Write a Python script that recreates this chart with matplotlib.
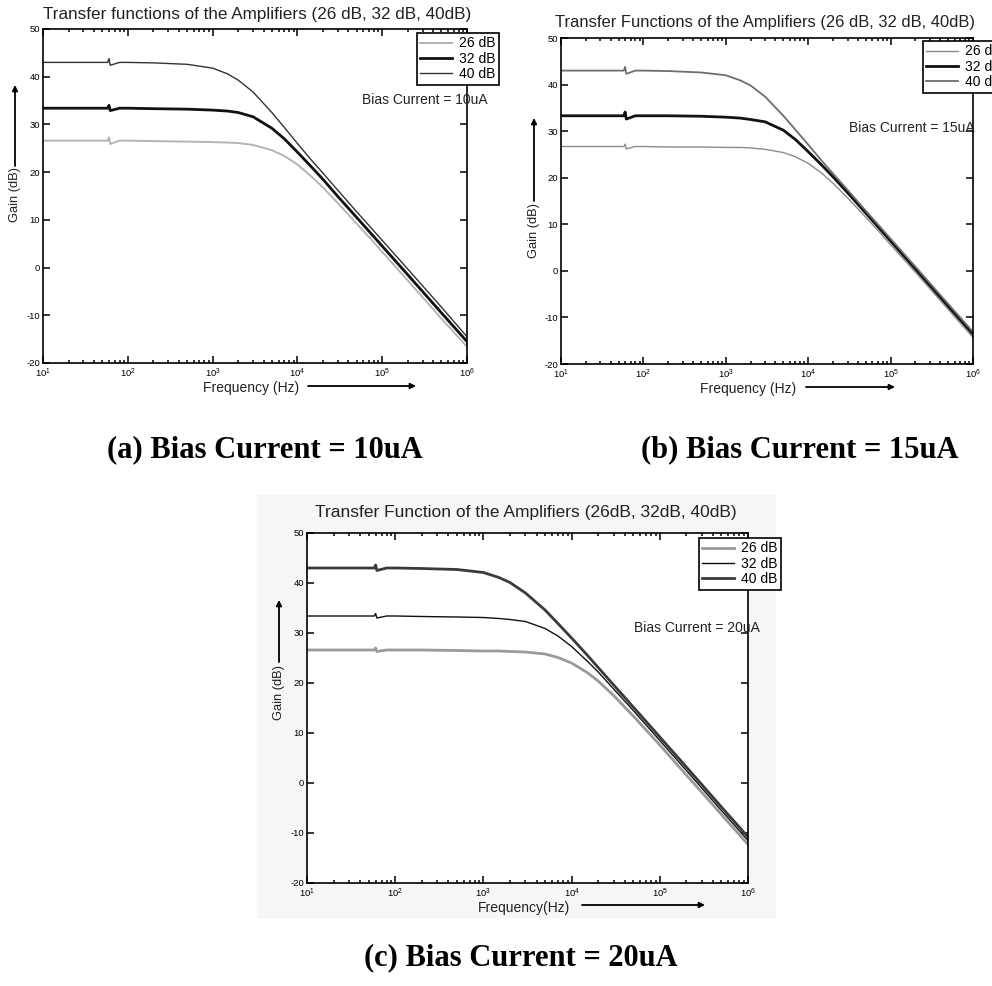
import numpy as np
import matplotlib
matplotlib.use('Agg')
import matplotlib.pyplot as plt
from matplotlib.patches import FancyArrowPatch, Rectangle
from matplotlib.ticker import LogLocator, NullFormatter

plt.rcParams['font.family'] = ['Liberation Sans', 'DejaVu Sans']
plt.rcParams['axes.unicode_minus'] = False

W, H = 992, 986

# frequency points (Hz), 58-62 Hz holds the small mains spike
freq = [10, 20, 40, 58, 60, 62, 80, 100, 200, 500, 1e3, 1.5e3, 2e3, 3e3, 5e3, 7e3,
        1e4, 1.5e4, 2e4, 3e4, 5e4, 7e4, 1e5, 2e5, 5e5, 1e6]

# (a) bias current 10uA
gain_a_26 = [26.6, 26.6, 26.6, 26.6, 27.3, 25.9, 26.6, 26.6, 26.5, 26.4, 26.3, 26.2, 26.1, 25.7, 24.6, 23.4,
             21.6, 18.9, 16.8, 13.5, 9.2, 6.4, 3.3, -2.7, -10.7, -16.6]
gain_a_32 = [33.4, 33.4, 33.4, 33.4, 34.0, 32.9, 33.4, 33.4, 33.3, 33.2, 33.0, 32.8, 32.5, 31.6, 29.2, 27.0,
             24.2, 20.9, 18.5, 14.9, 10.5, 7.6, 4.5, -1.5, -9.5, -15.5]
gain_a_40 = [43.0, 43.0, 43.0, 43.0, 43.8, 42.4, 43.0, 43.0, 42.9, 42.6, 41.8, 40.6, 39.3, 36.8, 32.5, 29.4,
             26.0, 22.3, 19.8, 16.2, 11.7, 8.8, 5.7, -0.3, -8.3, -14.5]

# (b) bias current 15uA
gain_b_26 = [26.7, 26.7, 26.7, 26.7, 27.2, 26.2, 26.7, 26.7, 26.6, 26.6, 26.5, 26.5, 26.4, 26.1, 25.4, 24.5,
             23.1, 20.8, 18.8, 15.7, 11.5, 8.7, 5.6, -0.3, -8.3, -14.3]
gain_b_32 = [33.3, 33.3, 33.3, 33.3, 34.1, 32.6, 33.3, 33.3, 33.3, 33.2, 33.0, 32.8, 32.5, 32.0, 30.2, 28.2,
             25.6, 22.5, 20.2, 16.8, 12.4, 9.5, 6.4, 0.4, -7.6, -13.6]
gain_b_40 = [43.0, 43.0, 43.0, 43.0, 43.8, 42.3, 43.0, 43.0, 42.9, 42.6, 42.0, 40.9, 39.8, 37.4, 33.3, 30.3,
             27.1, 23.4, 20.9, 17.4, 12.9, 10.0, 6.9, 0.9, -7.1, -13.1]

# (c) bias current 20uA
gain_c_26 = [26.6, 26.6, 26.6, 26.6, 27.0, 26.3, 26.6, 26.6, 26.6, 26.5, 26.4, 26.4, 26.3, 26.2, 25.8, 25.1,
             24.0, 22.1, 20.4, 17.5, 13.4, 10.6, 7.6, 1.6, -6.3, -12.3]
gain_c_32 = [33.4, 33.4, 33.4, 33.4, 33.9, 33.0, 33.4, 33.4, 33.3, 33.2, 33.1, 32.9, 32.7, 32.3, 30.9, 29.4,
             27.3, 24.4, 22.2, 18.8, 14.5, 11.6, 8.5, 2.5, -5.5, -11.5]
gain_c_40 = [43.0, 43.0, 43.0, 43.0, 43.6, 42.5, 43.0, 43.0, 42.9, 42.7, 42.1, 41.1, 40.1, 38.0, 34.6, 31.9,
             29.0, 25.6, 23.1, 19.6, 15.2, 12.3, 9.2, 3.2, -4.8, -10.8]

labels = ['26 dB', '32 dB', '40 dB']
yticks = [-20, -10, 0, 10, 20, 30, 40, 50]


def fx(px):
    return px / W


def fy(py):
    return 1 - py / H


def arrow(fig, x0, y0, x1, y1):
    fig.add_artist(FancyArrowPatch((fx(x0), fy(y0)), (fx(x1), fy(y1)), transform=fig.transFigure,
                                   arrowstyle='-|>', mutation_scale=8, lw=1.3, color='k',
                                   shrinkA=0, shrinkB=0))


def panel(fig, box, curves, styles, title, bias, bias_xy, leg_xy, xlab, xlab_xy, xarrow, ylab_xy, yarrow):
    l, r, t, b = box
    ax = fig.add_axes([fx(l), fy(b), (r - l) / W, (b - t) / H])
    for g, (c, lw), lab in zip(curves, styles, labels):
        ax.semilogx(freq, g, color=c, lw=lw, label=lab)
    ax.set_xlim(10, 1e6)
    ax.set_ylim(-20, 50)
    ax.set_yticks(yticks)
    ax.xaxis.set_major_locator(LogLocator(base=10, numticks=10))
    ax.xaxis.set_minor_locator(LogLocator(base=10, subs=np.arange(2, 10), numticks=20))
    ax.xaxis.set_minor_formatter(NullFormatter())
    ax.tick_params(which='both', direction='in', top=True, right=True, labelsize=6.8, pad=2, width=1.1)
    ax.tick_params(axis='x', pad=3)
    ax.tick_params(which='major', length=5)
    ax.tick_params(which='minor', length=2.5)
    for s in ax.spines.values():
        s.set_linewidth(1.2)
    lg = ax.legend(loc='upper left', bbox_to_anchor=(fx(leg_xy[0]), fy(leg_xy[1])),
                   bbox_transform=fig.transFigure, fontsize=10, fancybox=False, framealpha=1,
                   edgecolor='k', borderpad=0.25, labelspacing=0.1, handlelength=2.3,
                   handletextpad=0.5, borderaxespad=0)
    lg.get_frame().set_linewidth(1.2)

    fig.text(fx(title[1]), fy(title[2]), title[0], ha='center', va='center', fontsize=title[3],
             color='#222222')
    fig.text(fx(bias_xy[0]), fy(bias_xy[1]), bias, ha='right', va='center', fontsize=10, color='#222222')
    fig.text(fx(xlab_xy[0]), fy(xlab_xy[1]), xlab, ha='center', va='center', fontsize=10, color='#222222')
    arrow(fig, xarrow[0], xarrow[2], xarrow[1], xarrow[2])
    fig.text(fx(ylab_xy[0]), fy(ylab_xy[1]), 'Gain (dB)', ha='center', va='center', rotation=90,
             fontsize=9.3, color='#222222')
    arrow(fig, yarrow[0], yarrow[1], yarrow[0], yarrow[2])
    return ax


fig = plt.figure(figsize=(W / 100, H / 100), dpi=100)

# light background behind the third panel
fig.add_artist(Rectangle((fx(257), fy(917)), (775 - 257) / W, (917 - 495) / H,
                         transform=fig.transFigure, color='#f6f6f6', zorder=-1))

panel(fig, (43, 467, 29, 363), [gain_a_26, gain_a_32, gain_a_40],
      [('#b4b4b4', 1.4), ('#111111', 2.0), ('#333333', 1.0)],
      ('Transfer functions of the Amplifiers (26 dB, 32 dB, 40dB)', 257, 15, 12.3),
      'Bias Current = 10uA', (488, 100), (417, 33),
      'Frequency (Hz)', (251, 388), (308, 416, 386), (15, 195), (15, 166, 85))

panel(fig, (561, 973, 38, 364), [gain_b_26, gain_b_32, gain_b_40],
      [('#8c8c8c', 1.0), ('#111111', 2.0), ('#6e6e6e', 1.3)],
      ('Transfer Functions of the Amplifiers (26 dB, 32 dB, 40dB)', 765, 22, 11.9),
      'Bias Current = 15uA', (975, 128), (923, 41),
      'Frequency (Hz)', (748, 389), (806, 895, 387), (534, 230), (534, 201, 118))

panel(fig, (307, 748, 533, 883), [gain_c_26, gain_c_32, gain_c_40],
      [('#9a9a9a', 2.0), ('#111111', 1.0), ('#3a3a3a', 2.0)],
      ('Transfer Function of the Amplifiers (26dB, 32dB, 40dB)', 526, 512, 12.5),
      'Bias Current = 20uA', (760, 628), (699, 538),
      'Frequency(Hz)', (524, 908), (582, 705, 905), (279, 692), (279, 662, 600))

cap = dict(ha='center', va='center', fontsize=22, fontweight='bold', family='Liberation Serif')
fig.text(fx(265), fy(450), '(a) Bias Current = 10uA', **cap)
fig.text(fx(800), fy(450), '(b) Bias Current = 15uA', **cap)
fig.text(fx(521), fy(958), '(c) Bias Current = 20uA', **cap)

fig.savefig('out.png', dpi=100)
plt.close()
